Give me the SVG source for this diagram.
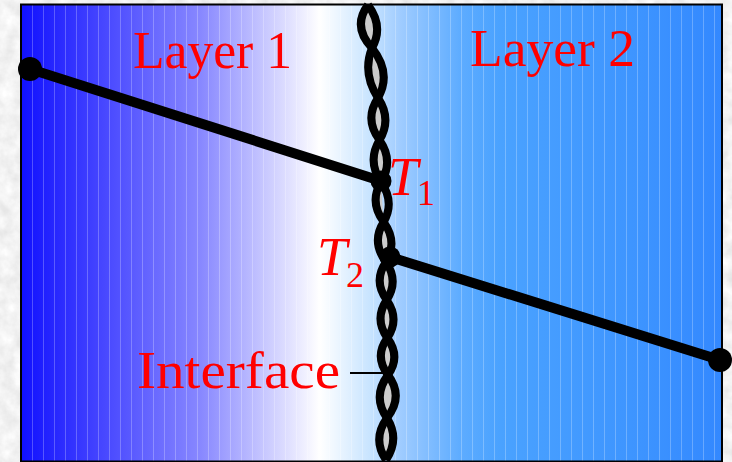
<svg xmlns="http://www.w3.org/2000/svg" width="732" height="462" viewBox="0 0 732 462">
  <defs>
    <filter id="marble" x="0" y="0" width="100%" height="100%">
      <feTurbulence type="fractalNoise" baseFrequency="0.07" numOctaves="4" seed="3" result="n"/>
      <feColorMatrix type="matrix" values="0.3 0 0 0 0.74  0.3 0 0 0 0.74  0.3 0 0 0 0.74  0 0 0 0 1"/>
    </filter>
    <linearGradient id="bg" gradientUnits="userSpaceOnUse" x1="21" y1="0" x2="722" y2="0">
      <stop offset="0" stop-color="#1010ff"/>
      <stop offset="0.2567" stop-color="#8888ff"/>
      <stop offset="0.4265" stop-color="#ffffff"/>
      <stop offset="0.4979" stop-color="#c8e4ff"/>
      <stop offset="0.5407" stop-color="#a0ccff"/>
      <stop offset="0.6262" stop-color="#5eacff"/>
      <stop offset="0.6833" stop-color="#4aa2ff"/>
      <stop offset="0.8830" stop-color="#3d94ff"/>
      <stop offset="1" stop-color="#3388ff"/>
    </linearGradient>
    <pattern id="stripes" patternUnits="userSpaceOnUse" x="21" y="0" width="11" height="462">
      <rect x="0" y="0" width="1" height="462" fill="#ffffff" fill-opacity="0.25"/>
    </pattern>
  </defs>
  <style>
    .lbl { font-family: "Liberation Serif", "DejaVu Serif", serif; fill: #ff0000; }
    .conn { stroke: #000; stroke-width: 10; stroke-linecap: round; fill: none; }
    .dot { fill: #000; }
    .strand { fill: none; stroke: #000; stroke-width: 8; stroke-linecap: butt; stroke-linejoin: round; }
  </style>

  <rect x="0" y="0" width="732" height="462" fill="#e6e6e6"/>
  <rect x="0" y="0" width="732" height="462" filter="url(#marble)"/>

  <g id="panel">
    <rect x="21" y="4.5" width="701" height="457" fill="url(#bg)"/>
    <rect x="21" y="4.5" width="701" height="457" fill="url(#stripes)"/>
    <rect x="21" y="4.5" width="701" height="457" fill="none" stroke="#000" stroke-width="2"/>
  </g>

  <g id="interface">
    <path fill="#cccccc" d="M368 5 Q352 26.5 372 48 Q384 26.5 368 5 Z M372 48 Q392 73 378 98 Q362 73 372 48 Z M378 98 Q364 119 379.5 140 Q392 119 378 98 Z M379.5 140 Q394 161 381 182 Q367 161 379.5 140 Z M381 182 Q369 202 383.7 222 Q395 202 383.7 222 Z M383.7 222 Q398 242 386 262 Q371 242 383.7 222 Z M386 262 Q373 281 386.7 300 Q399 281 386 262 Z M386.7 300 Q400 319 387.3 338 Q374 319 386.7 300 Z M387.3 338 Q374 356.5 388 375 Q401 356.5 387.3 338 Z M388 375 Q404 396.5 387 418 Q372 396.5 388 375 Z M387 418 Q372 439 386 460 Q400 439 387 418 Z"/>
    <path class="strand" d="M368 5 Q352 26.5 372 48 Q392 73 378 98 Q364 119 379.5 140 Q394 161 381 182 Q369 202 383.7 222 Q398 242 386 262 Q373 281 386.7 300 Q400 319 387.3 338 Q374 356.5 388 375 Q404 396.5 387 418 Q372 439 386 460"/>
    <path class="strand" d="M368 5 Q384 26.5 372 48 Q362 73 378 98 Q392 119 379.5 140 Q367 161 381 182 Q395 202 383.7 222 Q371 242 386 262 Q399 281 386.7 300 Q374 319 387.3 338 Q401 356.5 388 375 Q372 396.5 387 418 Q400 439 386 460"/>
  </g>

  <g id="connectors">
    <line class="conn" x1="30" y1="69" x2="381" y2="181"/>
    <line class="conn" x1="390" y1="257" x2="720" y2="360"/>
    <line x1="350" y1="373" x2="385" y2="373" stroke="#000" stroke-width="1.8"/>
  </g>

  <g id="endpoint-left"><circle class="dot" cx="30" cy="69" r="12"/></g>
  <g id="node-T1"><circle class="dot" cx="381" cy="181" r="10.5"/>
    <text class="lbl" x="388" y="195" font-size="54" font-style="italic">T</text>
    <text class="lbl" x="417" y="205" font-size="36">1</text>
  </g>
  <g id="node-T2"><circle class="dot" cx="390" cy="257" r="10.5"/>
    <text class="lbl" x="317" y="275" font-size="54" font-style="italic">T</text>
    <text class="lbl" x="346" y="287" font-size="36">2</text>
  </g>
  <g id="endpoint-right"><circle class="dot" cx="720" cy="360" r="12"/></g>

  <g id="layer1"><text class="lbl" x="133" y="68" font-size="52" textLength="159" lengthAdjust="spacingAndGlyphs">Layer 1</text></g>
  <g id="layer2"><text class="lbl" x="470" y="66" font-size="52" textLength="165" lengthAdjust="spacingAndGlyphs">Layer 2</text></g>
  <g id="interface-label"><text class="lbl" x="137" y="388" font-size="52" textLength="203" lengthAdjust="spacingAndGlyphs">Interface</text></g>
</svg>
